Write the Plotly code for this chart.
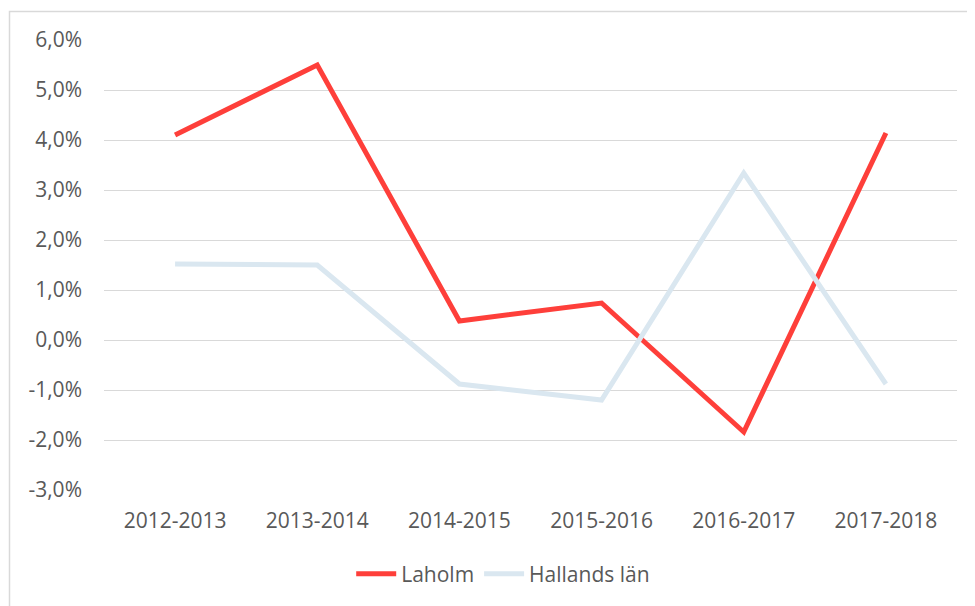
import plotly.graph_objects as go

categories = ["2012-2013", "2013-2014", "2014-2015", "2015-2016", "2016-2017", "2017-2018"]
laholm = [0.041, 0.055, 0.0038, 0.0074, -0.0184, 0.0414]
hallands = [0.0152, 0.0150, -0.0088, -0.0120, 0.0334, -0.0088]
tick_vals = [-0.03, -0.02, -0.01, 0.0, 0.01, 0.02, 0.03, 0.04, 0.05, 0.06]
tick_text = ["-3,0%", "-2,0%", "-1,0%", "0,0%", "1,0%", "2,0%", "3,0%", "4,0%", "5,0%", "6,0%"]

FONT = "Open Sans"
TXT = "#595959"
FS = 21

fig = go.Figure()
fig.add_trace(go.Scatter(x=categories, y=laholm, mode="lines", name="Laholm",
                         line=dict(color="#FE3F3A", width=5)))
fig.add_trace(go.Scatter(x=categories, y=hallands, mode="lines", name="Hallands län",
                         line=dict(color="#DAE7F0", width=5)))

# page body has an 8px margin, so the figure is offset by 8px
W, H = 967, 598
L, R, T, B = 96, 18, 32, 116
pw, ph = W - L - R, H - T - B

fig.update_layout(
    width=W, height=H,
    margin=dict(l=L, r=R, t=T, b=B, pad=0, autoexpand=False),
    paper_bgcolor="white", plot_bgcolor="white",
    font=dict(family=FONT, size=FS, color=TXT),
    showlegend=True,
    legend=dict(orientation="h", x=0.468, xanchor="center",
                yref="container", y=1 - 566 / H, yanchor="middle",
                font=dict(family=FONT, size=FS, color=TXT), itemwidth=40,
                traceorder="normal"),
    xaxis=dict(type="category", showgrid=False, zeroline=False, showline=False,
               automargin=False, ticklabelstandoff=16,
               ticks="", tickfont=dict(size=FS, color=TXT), range=[-0.5, 5.5]),
    yaxis=dict(range=[-0.03, 0.06], tickvals=tick_vals, ticktext=tick_text,
               automargin=False,
               showgrid=True, gridcolor="#D9D9D9", gridwidth=1,
               zeroline=False, showline=False, ticks="", ticklabelstandoff=21,
               tickfont=dict(size=FS, color=TXT)),
)

# outer chart border (partially cropped in the reference)
fig.add_shape(type="rect", xref="paper", yref="paper",
              x0=(1.5 - L) / pw, x1=1.2, y0=-0.5, y1=1 + (T - 3.5) / ph,
              line=dict(color="#D9D9D9", width=1.5), fillcolor="rgba(0,0,0,0)", layer="below")

fig.write_html("out.html")
